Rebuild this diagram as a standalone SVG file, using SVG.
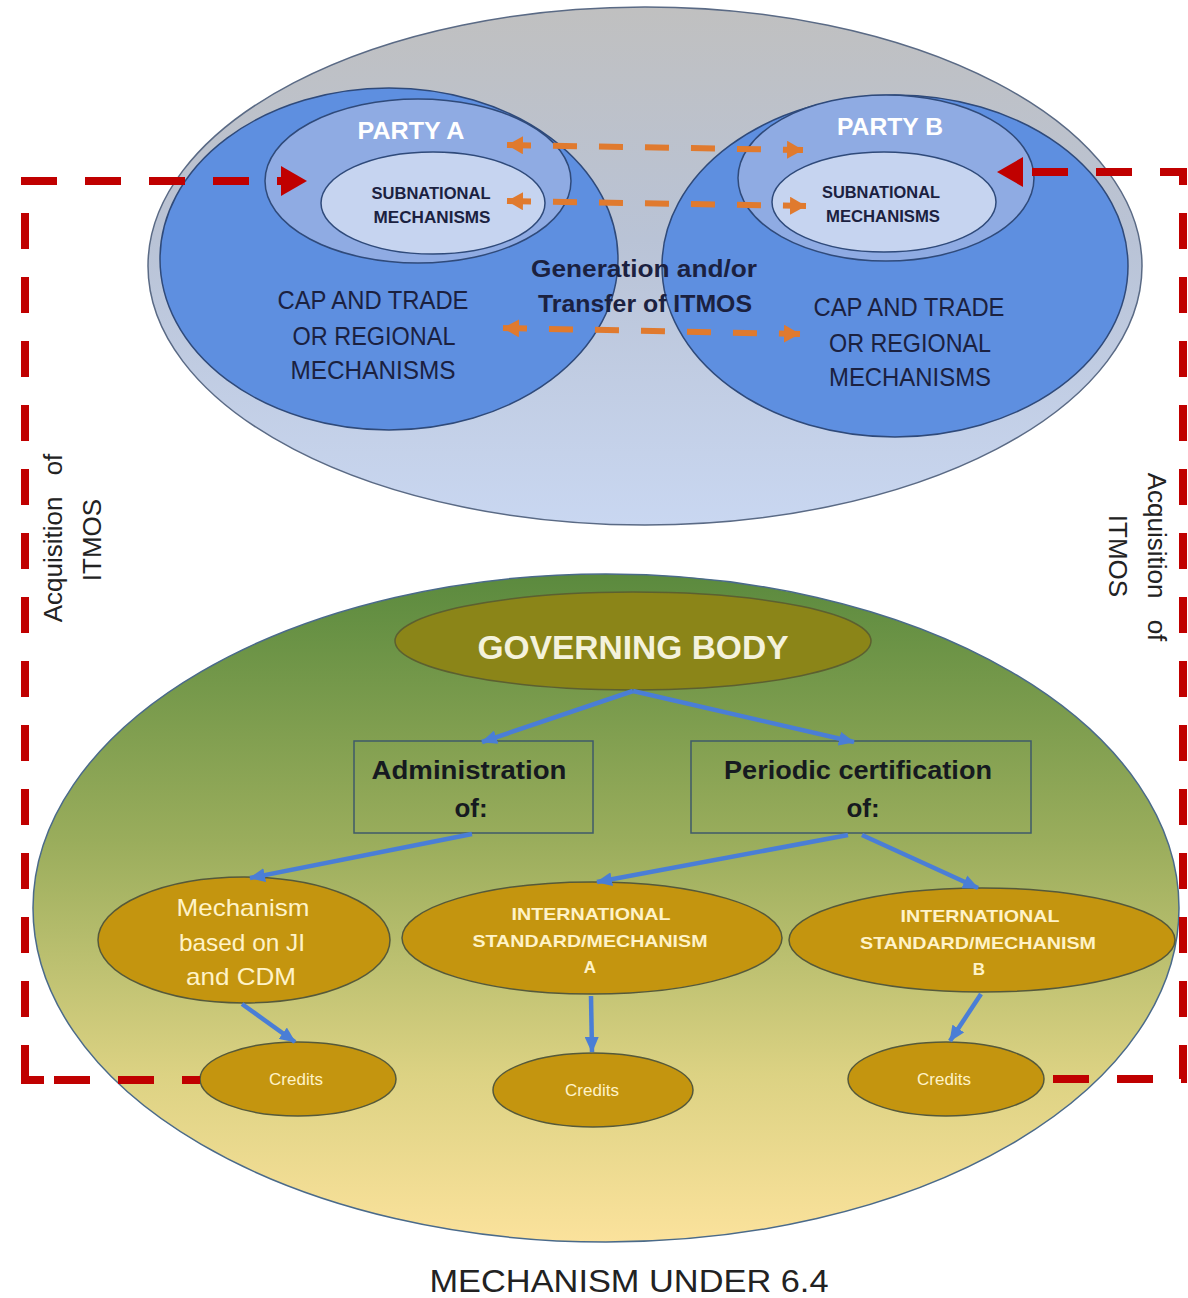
<svg xmlns="http://www.w3.org/2000/svg" width="1188" height="1298" viewBox="0 0 1188 1298">
<style>
.t{font-family:"Liberation Sans",Arial,sans-serif}
.nb{fill:#1b2140}
.blue{fill:#5e8fe0;stroke:#2f4a7a;stroke-width:1.5}
.party{fill:#8fabe3;stroke:#2f4a7a;stroke-width:1.5}
.sub{fill:#c6d4f0;stroke:#2f4a7a;stroke-width:1.5}
.gold{fill:#c4950f;stroke:#55593a;stroke-width:1.5}
.cream{fill:#fff3c8}
.orange{stroke:#e07a2e;stroke-width:6;fill:none;stroke-dasharray:24 22;marker-start:url(#oa);marker-end:url(#oa)}
.red{stroke:#c00000;stroke-width:8;fill:none;stroke-dasharray:36 28;marker-end:url(#ra)}
.barr{stroke:#4a7ed6;stroke-width:4.5;fill:none;marker-end:url(#ba)}
.side{font-size:26px;fill:#222}
</style>
<defs>
<linearGradient id="gTop" x1="0" y1="0" x2="0" y2="1">
<stop offset="0" stop-color="#c0c0c0"/><stop offset="0.45" stop-color="#b9c3d6"/><stop offset="1" stop-color="#c9d7f1"/>
</linearGradient>
<linearGradient id="gBot" x1="0" y1="0" x2="0" y2="1">
<stop offset="0" stop-color="#5b8a3e"/><stop offset="0.4" stop-color="#9aad5c"/><stop offset="0.75" stop-color="#dcd283"/><stop offset="1" stop-color="#fbe29c"/>
</linearGradient>
<marker id="oa" markerUnits="userSpaceOnUse" markerWidth="16" markerHeight="18" refX="16" refY="9" orient="auto-start-reverse"><path d="M0,0 L16,9 L0,18 z" fill="#e07a2e"/></marker>
<marker id="ra" markerUnits="userSpaceOnUse" markerWidth="26" markerHeight="30" refX="0" refY="15" orient="auto"><path d="M0,0 L26,15 L0,30 z" fill="#c00000"/></marker>
<marker id="ba" markerUnits="userSpaceOnUse" markerWidth="16" markerHeight="14" refX="15" refY="7" orient="auto"><path d="M0,0 L16,7 L0,14 z" fill="#4a7ed6"/></marker>
</defs>
<rect width="1188" height="1298" fill="#ffffff"/>

<g id="top-region">
<ellipse cx="645" cy="266" rx="497" ry="259" fill="url(#gTop)" stroke="#5a6a85" stroke-width="1.5"/>
</g>
<g id="partyA-cap">
<ellipse class="blue" cx="389" cy="259" rx="229" ry="171"/>
<text class="t nb" font-size="26" text-anchor="middle"><tspan x="373" y="309" textLength="191" lengthAdjust="spacingAndGlyphs">CAP AND TRADE</tspan><tspan x="374" y="345" textLength="163" lengthAdjust="spacingAndGlyphs">OR REGIONAL</tspan><tspan x="373" y="379" textLength="165" lengthAdjust="spacingAndGlyphs">MECHANISMS</tspan></text>
</g>
<g id="partyB-cap">
<ellipse class="blue" cx="895" cy="266" rx="233" ry="171"/>
<text class="t nb" font-size="26" text-anchor="middle"><tspan x="909" y="316" textLength="191" lengthAdjust="spacingAndGlyphs">CAP AND TRADE</tspan><tspan x="910" y="352" textLength="162" lengthAdjust="spacingAndGlyphs">OR REGIONAL</tspan><tspan x="910" y="386" textLength="162" lengthAdjust="spacingAndGlyphs">MECHANISMS</tspan></text>
</g>
<g id="partyA">
<ellipse class="party" cx="418" cy="181" rx="153" ry="82"/>
<text class="t" font-size="24" font-weight="bold" fill="#ffffff" text-anchor="middle" x="411" y="139" textLength="107" lengthAdjust="spacingAndGlyphs">PARTY A</text>
</g>
<g id="subA">
<ellipse class="sub" cx="433" cy="203" rx="112" ry="51"/>
<text class="t nb" font-size="17" font-weight="bold" text-anchor="middle"><tspan x="431" y="199" textLength="119" lengthAdjust="spacingAndGlyphs">SUBNATIONAL</tspan><tspan x="432" y="223" textLength="117" lengthAdjust="spacingAndGlyphs">MECHANISMS</tspan></text>
</g>
<g id="partyB">
<ellipse class="party" cx="886" cy="178" rx="148" ry="83"/>
<text class="t" font-size="24" font-weight="bold" fill="#ffffff" text-anchor="middle" x="890" y="135" textLength="106" lengthAdjust="spacingAndGlyphs">PARTY B</text>
</g>
<g id="subB">
<ellipse class="sub" cx="884" cy="202" rx="112" ry="50"/>
<text class="t nb" font-size="17" font-weight="bold" text-anchor="middle"><tspan x="881" y="198" textLength="118" lengthAdjust="spacingAndGlyphs">SUBNATIONAL</tspan><tspan x="883" y="222" textLength="114" lengthAdjust="spacingAndGlyphs">MECHANISMS</tspan></text>
</g>
<g id="generation-label">
<text class="t nb" font-size="23" font-weight="bold" text-anchor="middle"><tspan x="644" y="277" textLength="226" lengthAdjust="spacingAndGlyphs">Generation and/or</tspan><tspan x="645" y="312" textLength="214" lengthAdjust="spacingAndGlyphs">Transfer of ITMOS</tspan></text>
</g>

<g id="mechanism-6-4">
<ellipse cx="606" cy="908" rx="573" ry="334" fill="url(#gBot)" stroke="#4a6a8a" stroke-width="1.5"/>
</g>
<g id="governing-body">
<ellipse cx="633" cy="641" rx="238" ry="49" fill="#8b8518" stroke="#5c6030" stroke-width="1.5"/>
<text class="t" font-size="33" font-weight="bold" fill="#f4f2dc" text-anchor="middle" x="633" y="659" textLength="311" lengthAdjust="spacingAndGlyphs">GOVERNING BODY</text>
</g>
<g id="administration">
<rect x="354" y="741" width="239" height="92" fill="none" stroke="#3f5a6a" stroke-width="1.5"/>
<text class="t" font-size="26" font-weight="bold" fill="#161a20" text-anchor="middle"><tspan x="469" y="779" textLength="195" lengthAdjust="spacingAndGlyphs">Administration</tspan><tspan x="471" y="817">of:</tspan></text>
</g>
<g id="periodic-certification">
<rect x="691" y="741" width="340" height="92" fill="none" stroke="#3f5a6a" stroke-width="1.5"/>
<text class="t" font-size="26" font-weight="bold" fill="#161a20" text-anchor="middle"><tspan x="858" y="779" textLength="268" lengthAdjust="spacingAndGlyphs">Periodic certification</tspan><tspan x="863" y="817">of:</tspan></text>
</g>
<g id="mechanism-ji-cdm">
<ellipse class="gold" cx="244" cy="940" rx="146" ry="63"/>
<text class="t cream" font-size="24" text-anchor="middle"><tspan x="243" y="916" textLength="133" lengthAdjust="spacingAndGlyphs">Mechanism</tspan><tspan x="242" y="951" textLength="126" lengthAdjust="spacingAndGlyphs">based on JI</tspan><tspan x="241" y="985" textLength="110" lengthAdjust="spacingAndGlyphs">and CDM</tspan></text>
</g>
<g id="intl-a">
<ellipse class="gold" cx="592" cy="938" rx="190" ry="56"/>
<text class="t cream" font-size="17" font-weight="bold" text-anchor="middle"><tspan x="591" y="920" textLength="159" lengthAdjust="spacingAndGlyphs">INTERNATIONAL</tspan><tspan x="590" y="947" textLength="235" lengthAdjust="spacingAndGlyphs">STANDARD/MECHANISM</tspan><tspan x="590" y="973">A</tspan></text>
</g>
<g id="intl-b">
<ellipse class="gold" cx="982" cy="940" rx="193" ry="52"/>
<text class="t cream" font-size="17" font-weight="bold" text-anchor="middle"><tspan x="980" y="922" textLength="159" lengthAdjust="spacingAndGlyphs">INTERNATIONAL</tspan><tspan x="978" y="949" textLength="236" lengthAdjust="spacingAndGlyphs">STANDARD/MECHANISM</tspan><tspan x="979" y="975">B</tspan></text>
</g>
<g id="credits-1">
<ellipse class="gold" cx="298" cy="1079" rx="98" ry="37"/>
<text class="t cream" font-size="17" text-anchor="middle" x="296" y="1085">Credits</text>
</g>
<g id="credits-2">
<ellipse class="gold" cx="593" cy="1090" rx="100" ry="37"/>
<text class="t cream" font-size="17" text-anchor="middle" x="592" y="1096">Credits</text>
</g>
<g id="credits-3">
<ellipse class="gold" cx="946" cy="1079" rx="98" ry="37"/>
<text class="t cream" font-size="17" text-anchor="middle" x="944" y="1085">Credits</text>
</g>

<g id="connectors">
<path class="orange" d="M507,145 L803,150"/>
<path class="orange" d="M507,201 L806,206"/>
<path class="orange" d="M503,328 L800,334"/>
<path class="barr" d="M633,691 L482,742"/>
<path class="barr" d="M633,691 L854,742"/>
<path class="barr" d="M472,834 L250,878"/>
<path class="barr" d="M848,835 L597,882"/>
<path class="barr" d="M862,835 L978,888"/>
<path class="barr" d="M242,1004 L295,1042"/>
<path class="barr" d="M591,996 L592,1052"/>
<path class="barr" d="M981,994 L950,1041"/>
<path class="red" stroke-dashoffset="18" d="M200,1080 H25 V181 H281"/>
<path d="M25,1052 V1080 H44" stroke="#c00000" stroke-width="8" fill="none"/>
<path class="red" stroke-dashoffset="55" d="M1044,1079 H1183 V172 H1023"/>
</g>

<g id="labels">
<text class="t side" text-anchor="middle" transform="translate(62,538) rotate(-90)" word-spacing="14">Acquisition of</text>
<text class="t side" text-anchor="middle" transform="translate(101,540) rotate(-90)">ITMOS</text>
<text class="t side" text-anchor="middle" transform="translate(1148,557) rotate(90)" word-spacing="14">Acquisition of</text>
<text class="t side" text-anchor="middle" transform="translate(1109,556) rotate(90)">ITMOS</text>
<text class="t" font-size="32" fill="#222" text-anchor="middle" x="629" y="1292" textLength="399" lengthAdjust="spacingAndGlyphs">MECHANISM UNDER 6.4</text>
</g>
</svg>
